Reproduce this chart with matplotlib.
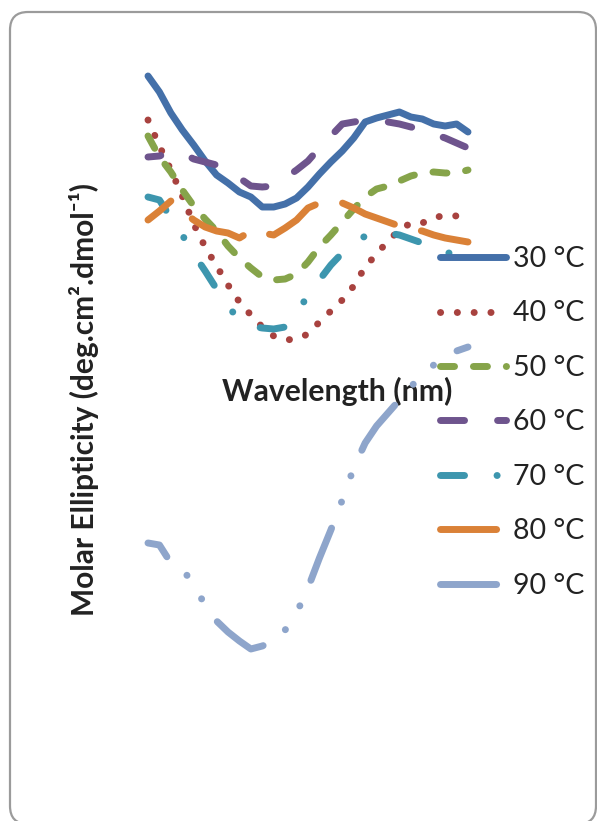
import numpy as np
import matplotlib.pyplot as plt
from matplotlib.patches import FancyBboxPatch

plt.rcParams['font.family'] = ['Lato', 'DejaVu Sans']
plt.rcParams['lines.scale_dashes'] = False

# wavelength grid (nm) and molar ellipticity (x10^3 deg.cm2.dmol-1)
wavelength = np.arange(190, 260.1, 2.5)

t30 = [16.2, 15.4, 14.35, 13.5, 12.75, 11.95, 11.25, 10.85, 10.4, 10.15, 9.65, 9.65, 9.8, 10.1,
       10.65, 11.3, 11.9, 12.45, 13.1, 13.9, 14.1, 14.25, 14.4, 14.15, 14.05, 13.8, 13.7, 13.8, 13.4]
t40 = [14.0, 12.7, 11.5, 10.2, 8.8, 7.65, 6.7, 5.75, 4.9, 4.25, 3.65, 3.2, 3.0, 3.05,
       3.3, 3.9, 4.45, 5.0, 5.7, 6.65, 7.3, 7.95, 8.5, 8.85, 8.85, 9.1, 9.25, 9.2, 9.0]
t50 = [13.2, 12.15, 11.4, 10.5, 9.7, 9.05, 8.45, 7.7, 7.1, 6.6, 6.15, 6.0, 6.05, 6.3,
       6.9, 7.65, 8.25, 8.9, 9.55, 10.15, 10.55, 10.7, 10.95, 11.2, 11.35, 11.4, 11.35, 11.35, 11.5]
t60 = [12.15, 12.2, 12.4, 12.35, 12.05, 11.9, 11.75, 11.5, 11.1, 10.7, 10.65, 10.7, 11.1, 11.5,
       11.95, 12.6, 13.2, 13.8, 13.9, 14.0, 14.0, 13.9, 13.8, 13.65, 13.5, 13.3, 13.1, 12.85, 12.6]
t70 = [10.15, 10.0, 9.1, 8.25, 7.3, 6.45, 5.55, 4.65, 4.05, 3.7, 3.6, 3.55, 3.65, 4.4,
       5.2, 6.0, 6.75, 7.35, 7.8, 8.2, 8.35, 8.35, 8.25, 8.05, 7.85, 7.6, 7.4, 7.25, 7.1]
t80 = [9.0, 9.45, 9.95, 9.45, 9.0, 8.65, 8.45, 8.35, 8.1, 8.45, 8.35, 8.25, 8.6, 9.0,
       9.6, 9.85, 9.9, 9.85, 9.6, 9.3, 9.1, 8.9, 8.7, 8.55, 8.45, 8.25, 8.1, 8.0, 7.9]
t90 = [-7.15, -7.25, -8.15, -8.5, -9.15, -10.3, -11.05, -11.6, -12.05, -12.45, -12.3, -12.05, -11.5, -10.65,
       -9.4, -7.9, -6.5, -5.0, -3.4, -2.15, -1.3, -0.65, 0.0, 0.65, 1.3, 1.75, 2.2, 2.45, 2.65]

labels = ['30 °C', '40 °C', '50 °C', '60 °C', '70 °C', '80 °C', '90 °C']
series = [t30, t40, t50, t60, t70, t80, t90]
colors = ['#4470A9', '#A8423F', '#86A44A', '#6E548D', '#3D96AE', '#DA8137', '#8EA5CB']
# Excel-like dash patterns (points), with start offsets used in the plot only
dashes = [None, (0.1, 12), (10.1, 13.6), (17.3, 23.8), (17.3, 23.4, 0.1, 23.4),
          (40.4, 20), (40.4, 20, 0.1, 20, 0.1, 20)]
offsets = [0, 0, 0, 8, 0, 19, 22]

fig = plt.figure(figsize=(5.97, 8.21), dpi=100)

# background with rounded chart border (pixel coordinates)
bg = fig.add_axes([0, 0, 1, 1])
bg.set_xlim(0, 597)
bg.set_ylim(821, 0)
bg.axis('off')
bg.add_patch(FancyBboxPatch((10, 12), 586, 812, boxstyle='round,pad=0,rounding_size=18',
                            ec='#9b9b9b', fc='white', lw=1.6))

bg.text(337, 400.5, 'Wavelength (nm)', fontsize=21.7, fontweight='bold', color='#222222',
        ha='center', va='baseline')
bg.text(84, 399, 'Molar Ellipticity (deg.cm\u00b2.dmol\u207b\u00b9)', fontsize=21.5, fontweight='bold',
        color='#222222', ha='center', va='center', rotation=90)

ax = fig.add_axes([0, 0, 1, 1])
ax.patch.set_alpha(0)
ax.set_xlim(157.625, 288.219)
ax.set_ylim(-21.05, 20)
ax.axis('off')

for y, lab, c, d, off in zip(series, labels, colors, dashes, offsets):
    ls = '-' if d is None else (off, d)
    ax.plot(wavelength, y, color=c, lw=5, linestyle=ls, label=lab,
            dash_capstyle='round', solid_capstyle='round')

leg = ax.legend(loc='upper left', bbox_to_anchor=(439.5 / 597, 1 - 246 / 821), bbox_transform=fig.transFigure,
                frameon=False, fontsize=20.5, handlelength=2.32, handletextpad=0.25, labelspacing=1.0,
                borderpad=0, borderaxespad=0, labelcolor='#222222')
for h, d in zip(leg.get_lines(), dashes):
    if d is not None:
        h.set_linestyle((0, d))

fig.savefig('out.png', dpi=100)
